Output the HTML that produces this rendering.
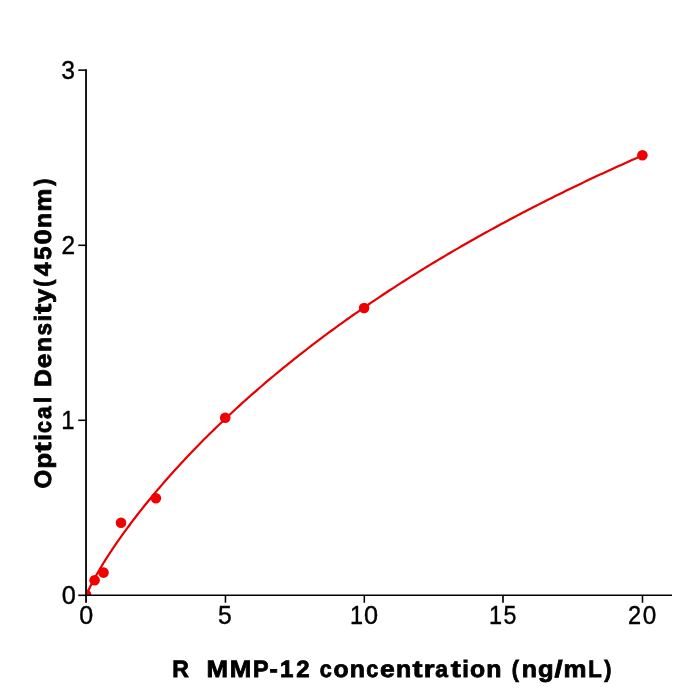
<!DOCTYPE html>
<html lang="en">
<head>
<meta charset="utf-8">
<title>R MMP-12 standard curve</title>
<style>
html,body{margin:0;padding:0;background:#ffffff;}
body{width:700px;height:700px;overflow:hidden;}
svg{display:block;will-change:transform;}
text{font-family:"Liberation Sans",sans-serif;fill:#000000;text-rendering:geometricPrecision;}
.tick{font-size:25.3px;stroke:#000000;stroke-width:0.4px;text-rendering:auto;}
.lab{font-size:23.6px;font-weight:bold;stroke:#000000;stroke-width:0.8px;stroke-linejoin:miter;}
</style>
</head>
<body>
<svg width="700" height="700" viewBox="0 0 700 700">
<rect x="0" y="0" width="700" height="700" fill="#ffffff"/>
<defs><clipPath id="ax"><rect x="86.04" y="70.13" width="585.96" height="525.17"/></clipPath></defs>

<g clip-path="url(#ax)">
<polyline points="86.00,596.60 86.71,594.44 87.43,592.67 88.14,591.03 88.85,589.47 89.57,587.95 90.28,586.49 90.99,585.06 91.71,583.66 92.42,582.28 93.13,580.93 93.85,579.60 94.56,578.29 95.28,577.00 95.99,575.72 96.70,574.46 97.42,573.21 98.13,571.98 98.84,570.75 99.56,569.54 100.27,568.34 100.98,567.15 101.70,565.97 102.41,564.80 103.12,563.64 103.84,562.49 104.55,561.34 105.26,560.20 105.98,559.07 106.69,557.95 107.40,556.84 108.12,555.73 108.83,554.63 109.54,553.54 110.26,552.45 110.97,551.37 111.68,550.30 112.40,549.23 113.11,548.16 113.83,547.11 116.48,543.22 119.14,539.40 121.79,535.64 124.45,531.95 127.11,528.31 129.76,524.73 132.42,521.20 135.08,517.72 137.73,514.28 140.39,510.89 143.05,507.54 145.70,504.23 148.36,500.96 151.02,497.72 153.67,494.52 156.33,491.36 158.99,488.23 161.64,485.13 164.30,482.07 166.96,479.03 169.61,476.03 172.27,473.05 174.93,470.10 177.58,467.18 180.24,464.29 182.90,461.42 185.55,458.58 188.21,455.76 190.87,452.97 193.52,450.20 196.18,447.46 198.84,444.73 201.49,442.03 204.15,439.35 206.81,436.70 209.46,434.06 212.12,431.44 214.78,428.85 217.43,426.27 220.09,423.72 222.75,421.18 225.40,418.66 228.06,416.16 230.72,413.68 233.37,411.22 236.03,408.77 238.69,406.34 241.34,403.93 244.00,401.53 246.66,399.16 249.31,396.79 251.97,394.45 254.63,392.12 257.28,389.80 259.94,387.50 262.60,385.22 265.25,382.95 267.91,380.69 270.57,378.45 273.22,376.22 275.88,374.01 278.54,371.81 281.19,369.63 283.85,367.46 286.51,365.30 289.16,363.15 291.82,361.02 294.48,358.90 297.13,356.80 299.79,354.70 302.45,352.62 305.10,350.55 307.76,348.50 310.42,346.45 313.07,344.42 315.73,342.40 318.39,340.39 321.04,338.39 323.70,336.40 326.36,334.42 329.01,332.46 331.67,330.50 334.33,328.56 336.98,326.63 339.64,324.70 342.30,322.79 344.95,320.89 347.61,319.00 350.27,317.12 352.92,315.25 355.58,313.38 358.24,311.53 360.89,309.69 363.55,307.86 366.21,306.04 368.86,304.22 371.52,302.42 374.18,300.62 376.83,298.84 379.49,297.06 382.15,295.29 384.80,293.54 387.46,291.79 390.12,290.04 392.77,288.31 395.43,286.59 398.09,284.87 400.74,283.16 403.40,281.47 406.06,279.77 408.71,278.09 411.37,276.42 414.03,274.75 416.68,273.09 419.34,271.44 422.00,269.80 424.65,268.17 427.31,266.54 429.97,264.92 432.62,263.31 435.28,261.70 437.94,260.10 440.59,258.51 443.25,256.93 445.91,255.36 448.56,253.79 451.22,252.23 453.88,250.67 456.53,249.13 459.19,247.59 461.85,246.05 464.50,244.53 467.16,243.01 469.82,241.49 472.47,239.99 475.13,238.49 477.79,237.00 480.44,235.51 483.10,234.03 485.76,232.55 488.41,231.09 491.07,229.63 493.73,228.17 496.38,226.72 499.04,225.28 501.70,223.84 504.35,222.41 507.01,220.99 509.67,219.57 512.32,218.16 514.98,216.75 517.64,215.35 520.29,213.96 522.95,212.57 525.61,211.19 528.26,209.81 530.92,208.44 533.58,207.07 536.23,205.71 538.89,204.36 541.55,203.01 544.20,201.66 546.86,200.32 549.52,198.99 552.17,197.66 554.83,196.34 557.49,195.02 560.14,193.71 562.80,192.40 565.46,191.10 568.11,189.80 570.77,188.51 573.43,187.22 576.08,185.94 578.74,184.66 581.40,183.39 584.05,182.12 586.71,180.86 589.37,179.61 592.02,178.35 594.68,177.10 597.34,175.86 599.99,174.62 602.65,173.39 605.31,172.16 607.96,170.94 610.62,169.72 613.28,168.50 615.93,167.29 618.59,166.08 621.25,164.88 623.90,163.69 626.56,162.49 629.22,161.30 631.87,160.12 634.53,158.94 637.19,157.77 639.84,156.59 642.50,155.43" fill="none" stroke="#e60000" stroke-width="2.2" stroke-linejoin="round" stroke-linecap="butt"/>
<circle cx="86.0" cy="594.6" r="5.3" fill="#f20000"/>
<circle cx="94.6" cy="580.3" r="5.3" fill="#f20000"/>
<circle cx="103.5" cy="572.6" r="5.3" fill="#f20000"/>
<circle cx="121.0" cy="522.7" r="5.3" fill="#f20000"/>
<circle cx="155.9" cy="498.2" r="5.3" fill="#f20000"/>
<circle cx="225.2" cy="417.7" r="5.3" fill="#f20000"/>
<circle cx="364.1" cy="308.0" r="5.3" fill="#f20000"/>
<circle cx="642.4" cy="155.2" r="5.3" fill="#f20000"/>
</g>
<g stroke="#000000" fill="none">
<line x1="86.04" y1="69.35" x2="86.04" y2="596.08" stroke-width="1.8"/>
<line x1="85.14" y1="595.3" x2="672.0" y2="595.3" stroke-width="1.56"/>
<line x1="86.04" y1="595.3" x2="86.04" y2="602.75" stroke-width="1.8"/>
<line x1="225.45" y1="595.3" x2="225.45" y2="602.75" stroke-width="1.56"/>
<line x1="364.3" y1="595.3" x2="364.3" y2="602.75" stroke-width="1.56"/>
<line x1="503.0" y1="595.3" x2="503.0" y2="602.75" stroke-width="1.66"/>
<line x1="642.5" y1="595.3" x2="642.5" y2="602.75" stroke-width="1.56"/>
<line x1="78.25" y1="595.3" x2="86.04" y2="595.3" stroke-width="1.56"/>
<line x1="78.25" y1="420.3" x2="86.04" y2="420.3" stroke-width="1.56"/>
<line x1="78.25" y1="245.3" x2="86.04" y2="245.3" stroke-width="1.56"/>
<line x1="78.25" y1="70.13" x2="86.04" y2="70.13" stroke-width="1.56"/>
</g>
<text class="tick" y="624"><tspan x="79.22" textLength="13.96" lengthAdjust="spacingAndGlyphs">0</tspan></text>
<text class="tick" y="624"><tspan x="218.11" textLength="13.74" lengthAdjust="spacingAndGlyphs">5</tspan></text>
<text class="tick" y="624"><tspan x="350.00" textLength="13.07" lengthAdjust="spacingAndGlyphs">1</tspan><tspan x="364.11" textLength="14.08" lengthAdjust="spacingAndGlyphs">0</tspan></text>
<text class="tick" y="624"><tspan x="489.00" textLength="13.07" lengthAdjust="spacingAndGlyphs">1</tspan><tspan x="503.51" textLength="12.88" lengthAdjust="spacingAndGlyphs">5</tspan></text>
<text class="tick" y="624"><tspan x="627.90" textLength="13.10" lengthAdjust="spacingAndGlyphs">2</tspan><tspan x="642.84" textLength="13.51" lengthAdjust="spacingAndGlyphs">0</tspan></text>
<text class="tick" y="604"><tspan x="61.71" textLength="14.08" lengthAdjust="spacingAndGlyphs">0</tspan></text>
<text class="tick" y="429"><tspan x="61.27" textLength="13.31" lengthAdjust="spacingAndGlyphs">1</tspan></text>
<text class="tick" y="254"><tspan x="61.57" textLength="13.57" lengthAdjust="spacingAndGlyphs">2</tspan></text>
<text class="tick" y="79"><tspan x="61.15" textLength="13.74" lengthAdjust="spacingAndGlyphs">3</tspan></text>
<text class="lab" y="677"><tspan x="172.35" textLength="16.60" lengthAdjust="spacingAndGlyphs">R</tspan>  <tspan x="206.46" textLength="21.52" lengthAdjust="spacingAndGlyphs">M</tspan><tspan x="229.70" textLength="21.52" lengthAdjust="spacingAndGlyphs">M</tspan><tspan x="253.06" textLength="15.59" lengthAdjust="spacingAndGlyphs">P</tspan><tspan x="269.51" textLength="8.29" lengthAdjust="spacingAndGlyphs">-</tspan><tspan x="280.01" textLength="13.38" lengthAdjust="spacingAndGlyphs">1</tspan><tspan x="296.16" textLength="13.35" lengthAdjust="spacingAndGlyphs">2</tspan> <tspan x="319.64" textLength="12.02" lengthAdjust="spacingAndGlyphs">c</tspan><tspan x="333.42" textLength="15.13" lengthAdjust="spacingAndGlyphs">o</tspan><tspan x="349.75" textLength="15.18" lengthAdjust="spacingAndGlyphs">n</tspan><tspan x="366.16" textLength="12.02" lengthAdjust="spacingAndGlyphs">c</tspan><tspan x="379.90" textLength="14.75" lengthAdjust="spacingAndGlyphs">e</tspan><tspan x="396.07" textLength="15.18" lengthAdjust="spacingAndGlyphs">n</tspan><tspan x="412.40" textLength="10.03" lengthAdjust="spacingAndGlyphs">t</tspan><tspan x="423.71" textLength="10.80" lengthAdjust="spacingAndGlyphs">r</tspan><tspan x="435.35" textLength="12.67" lengthAdjust="spacingAndGlyphs">a</tspan><tspan x="450.84" textLength="10.03" lengthAdjust="spacingAndGlyphs">t</tspan><tspan x="462.25" textLength="6.63" lengthAdjust="spacingAndGlyphs">i</tspan><tspan x="470.02" textLength="15.13" lengthAdjust="spacingAndGlyphs">o</tspan><tspan x="486.35" textLength="15.18" lengthAdjust="spacingAndGlyphs">n</tspan> <tspan x="511.67" textLength="7.16" lengthAdjust="spacingAndGlyphs">(</tspan><tspan x="521.78" textLength="15.18" lengthAdjust="spacingAndGlyphs">n</tspan><tspan x="538.10" textLength="15.60" lengthAdjust="spacingAndGlyphs">g</tspan><tspan x="554.59" textLength="8.11" lengthAdjust="spacingAndGlyphs">/</tspan><tspan x="563.59" textLength="22.98" lengthAdjust="spacingAndGlyphs">m</tspan><tspan x="588.29" textLength="13.51" lengthAdjust="spacingAndGlyphs">L</tspan><tspan x="604.35" textLength="7.16" lengthAdjust="spacingAndGlyphs">)</tspan></text>
<text class="lab" transform="rotate(-90)" y="51"><tspan x="-488.58" textLength="18.65" lengthAdjust="spacingAndGlyphs">O</tspan><tspan x="-468.64" textLength="15.53" lengthAdjust="spacingAndGlyphs">p</tspan><tspan x="-452.22" textLength="10.01" lengthAdjust="spacingAndGlyphs">t</tspan><tspan x="-440.84" textLength="6.61" lengthAdjust="spacingAndGlyphs">i</tspan><tspan x="-433.02" textLength="12.00" lengthAdjust="spacingAndGlyphs">c</tspan><tspan x="-419.02" textLength="12.64" lengthAdjust="spacingAndGlyphs">a</tspan><tspan x="-403.32" textLength="6.61" lengthAdjust="spacingAndGlyphs">l</tspan> <tspan x="-387.01" textLength="17.84" lengthAdjust="spacingAndGlyphs">D</tspan><tspan x="-368.16" textLength="14.72" lengthAdjust="spacingAndGlyphs">e</tspan><tspan x="-352.03" textLength="15.14" lengthAdjust="spacingAndGlyphs">n</tspan><tspan x="-335.39" textLength="12.51" lengthAdjust="spacingAndGlyphs">s</tspan><tspan x="-321.62" textLength="6.61" lengthAdjust="spacingAndGlyphs">i</tspan><tspan x="-313.88" textLength="10.01" lengthAdjust="spacingAndGlyphs">t</tspan><tspan x="-302.67" textLength="13.96" lengthAdjust="spacingAndGlyphs">y</tspan><tspan x="-286.70" textLength="7.14" lengthAdjust="spacingAndGlyphs">(</tspan><tspan x="-276.26" textLength="13.76" lengthAdjust="spacingAndGlyphs">4</tspan><tspan x="-259.67" textLength="13.38" lengthAdjust="spacingAndGlyphs">5</tspan><tspan x="-244.43" textLength="15.26" lengthAdjust="spacingAndGlyphs">0</tspan><tspan x="-227.97" textLength="15.14" lengthAdjust="spacingAndGlyphs">n</tspan><tspan x="-211.45" textLength="22.93" lengthAdjust="spacingAndGlyphs">m</tspan><tspan x="-185.64" textLength="7.14" lengthAdjust="spacingAndGlyphs">)</tspan></text>
</svg>
</body>
</html>
